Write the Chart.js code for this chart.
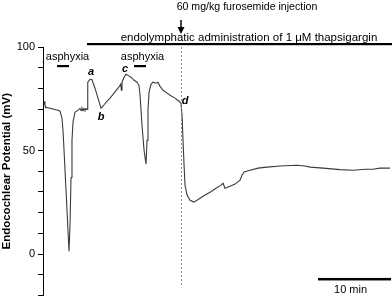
<!DOCTYPE html>
<html>
<head>
<meta charset="utf-8">
<script src="https://cdn.jsdelivr.net/npm/chart.js@4/dist/chart.umd.min.js"></script>
<style>
html,body{margin:0;padding:0;background:#fff;}
#wrap{width:392px;height:297px;position:relative;}
</style>
</head>
<body>
<div id="wrap"><canvas id="c"></canvas></div>
<script>
// time (min) of each sample
const timeMin = [0.14,0.27,0.41,0.96,1.51,2.05,2.33,2.60,2.74,2.88,3.15,3.42,3.56,3.70,3.84,3.97,4.11,4.38,4.79,
  5.06,5.21,5.34,5.48,5.62,5.75,5.89,6.03,6.10,6.16,6.44,6.71,7.12,7.53,7.95,8.22,8.63,9.18,9.73,10.27,10.55,10.64,10.73,10.82,
  11.10,11.37,11.64,12.05,12.47,12.88,13.15,13.29,13.56,13.84,14.11,14.25,14.38,14.52,14.79,15.07,15.48,15.75,16.03,16.44,16.85,
  17.40,18.08,18.63,18.90,19.04,19.18,19.32,19.45,19.73,20.14,20.68,21.51,22.19,22.88,23.70,24.38,24.66,24.93,25.62,26.30,26.99,
  27.26,27.53,28.36,29.45,30.68,32.47,34.79,35.89,36.58,38.36,40.68,42.47,44.11,45.21,46.16,47.53];
// endocochlear potential (mV)
const epValues = [73.8,71.9,70.9,70.4,69.9,69.5,69.0,65.6,59.8,50.2,30.9,11.6,1.4,14.0,37.0,55.0,63.7,68.5,69.5,
  70.3,69.4,70.4,69.3,70.3,69.5,70.2,69.9,79.1,83.0,84.4,84.2,80.1,75.3,70.4,71.4,73.3,75.3,77.7,80.1,81.5,82.5,79.1,83.0,
  85.4,86.8,86.3,85.4,83.9,83.0,81.5,76.7,62.2,50.2,43.4,55.0,69.5,78.1,82.0,83.0,82.5,83.0,81.0,79.1,78.1,
  76.7,75.3,73.8,72.8,67.1,55.0,42.9,33.3,28.5,26.0,25.1,27.0,28.5,29.9,31.8,33.3,34.2,31.8,32.8,33.8,35.7,
  38.1,39.6,40.5,41.5,42.0,42.5,42.9,42.5,42.0,41.5,40.8,40.5,41.0,41.0,41.5,41.5];
const yTickLabels = [0, 50, 100];
const asphyxiaPeriods = [[1.92, 3.56], [12.47, 14.11]];
const asphyxiaLabelCenters = [3.36, 13.63];
const thapsigarginStart = 6.03;
const injectionTime = 18.9;
const pointLabels = ['a', 'b', 'c', 'd'];
const pointLabelTimes = [6.58, 7.95, 11.23, 19.45];
const pointLabelValues = [87.8, 66.1, 89.2, 74.0];
const scaleBarStart = 37.67;
const scaleBarLength = 10;
const scaleBarValue = -12.1;

const FONT = '"Liberation Sans", Arial, Helvetica, sans-serif';

const annot = {
  id: 'annot',
  afterDraw(chart) {
    const ctx = chart.ctx;
    const xs = chart.scales.x, ys = chart.scales.y;
    const area = chart.chartArea;
    ctx.save();
    ctx.fillStyle = '#000';
    ctx.strokeStyle = '#000';
    ctx.textAlign = 'center';
    ctx.textBaseline = 'middle';
    const xi = xs.getPixelForValue(injectionTime);
    // dashed injection line
    ctx.save();
    ctx.strokeStyle = '#888';
    ctx.lineWidth = 1;
    ctx.setLineDash([2, 2]);
    ctx.beginPath();
    ctx.moveTo(Math.round(xi) + 0.5, 35);
    ctx.lineTo(Math.round(xi) + 0.5, 285);
    ctx.stroke();
    ctx.restore();
    // injection text & arrow
    ctx.font = '10.6px ' + FONT;
    ctx.fillText('60 mg/kg furosemide injection', 247, 7);
    ctx.lineWidth = 1.5;
    ctx.beginPath();
    ctx.moveTo(xi, 20);
    ctx.lineTo(xi, 29);
    ctx.stroke();
    ctx.beginPath();
    ctx.moveTo(xi - 3.5, 27);
    ctx.lineTo(xi + 3.5, 27);
    ctx.lineTo(xi, 34);
    ctx.closePath();
    ctx.fill();
    // thapsigargin
    ctx.font = '11.5px ' + FONT;
    ctx.fillText('endolymphatic administration of 1 \u03BCM thapsigargin', 249, 38);
    const xt = xs.getPixelForValue(thapsigarginStart);
    ctx.fillRect(xt, 43, area.right - xt, 2.2);
    // asphyxia
    ctx.font = '11px ' + FONT;
    asphyxiaPeriods.forEach((p, i) => {
      const x0 = xs.getPixelForValue(p[0]), x1 = xs.getPixelForValue(p[1]);
      ctx.fillRect(x0, 65, x1 - x0, 2.2);
      ctx.fillText('asphyxia', xs.getPixelForValue(asphyxiaLabelCenters[i]), 57);
    });
    // point labels
    ctx.font = 'italic bold 11px ' + FONT;
    pointLabels.forEach((l, i) => {
      ctx.fillText(l, xs.getPixelForValue(pointLabelTimes[i]), ys.getPixelForValue(pointLabelValues[i]));
    });
    // scale bar
    const sb0 = xs.getPixelForValue(scaleBarStart), sb1 = xs.getPixelForValue(scaleBarStart + scaleBarLength);
    const sby = ys.getPixelForValue(scaleBarValue);
    ctx.fillRect(sb0, sby - 1.2, sb1 - sb0, 2.5);
    ctx.font = '11px ' + FONT;
    ctx.fillText('10 min', (sb0 + sb1) / 2 - 4, sby + 11);
    ctx.restore();
  }
};

new Chart(document.getElementById('c'), {
  type: 'line',
  data: {
    datasets: [{
      data: timeMin.map((t, i) => ({x: t, y: epValues[i]})),
      borderColor: '#3a3a3a',
      borderWidth: 1.1,
      pointRadius: 0,
      tension: 0,
      fill: false
    }]
  },
  options: {
    responsive: true,
    maintainAspectRatio: false,
    animation: false,
    layout: {padding: {left: 0, right: 0, top: 47, bottom: 1.5}},
    plugins: {legend: {display: false}, tooltip: {enabled: false}},
    scales: {
      x: {type: 'linear', min: 0, max: 47.8, display: false},
      y: {
        min: -20, max: 100,
        afterFit(s) { s.width = 43; s.paddingTop = 0; s.paddingBottom = 0; },
        border: {display: true, color: '#000', width: 1},
        grid: {display: true, drawOnChartArea: false, drawTicks: true, tickLength: 5, color: '#000'},
        ticks: {
          stepSize: 10, color: '#000', padding: 3,
          font: {family: FONT, size: 11},
          callback: v => yTickLabels.includes(v) ? String(v) : ''
        },
        title: {display: true, text: 'Endocochlear Potential (mV)', color: '#000',
          font: {family: FONT, size: 11.5, weight: 'bold'}, padding: {top: 0, bottom: 0}}
      }
    }
  },
  plugins: [annot]
});
</script>
</body>
</html>
